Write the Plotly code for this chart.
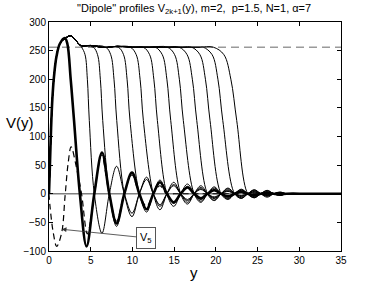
import plotly.graph_objects as go

# ---------------- data ----------------
# lobe centres (extrema of the decaying oscillations) and nodes (zeros)
LOBES = [4.5, 6.35, 8.1, 9.95, 11.7, 13.3, 14.95, 16.6, 18.2, 19.8, 21.45, 23.05, 24.6, 26.15, 27.7]
NODES = [3.7, 5.43, 7.23, 9.03, 10.83, 12.5, 14.13, 15.78, 17.4, 19.0, 20.63, 22.25, 23.83, 25.38, 26.93, 28.5]

# where each profile falls through V=128, and where its plateau starts bending
DROP_MID = [3.0, 4.83, 6.44, 8.12, 9.71, 11.31, 12.99, 14.59, 16.1, 17.71, 19.3, 20.83, 22.5]
DROP_START = [2.2, 3.9, 5.3, 6.8, 8.3, 9.75, 11.3, 12.75, 14.2, 15.6, 17.1, 18.5, 19.7]

# |extrema| of each profile, starting at its own lobe (first one negative)
OSC_AMPS = [
    [92, 72, 52, 37, 27, 20, 15, 11, 8, 6, 4.5, 3.5, 2.5, 1.5, 1],
    [69, 48, 34, 25, 19, 14, 10, 7.5, 5.5, 4, 3, 2, 1.5, 1],
    [57, 36, 27, 20, 15, 11, 8, 6, 4.5, 3.5, 2.5, 1.5, 1],
    [40, 29, 22, 16, 12, 9, 7, 5, 4, 3, 2, 1],
    [32, 24, 17, 13, 10, 7.5, 5.5, 4.5, 3.5, 2.5, 1.5],
    [28, 20, 15, 11, 8.5, 6.5, 5, 4, 3, 2],
    [22, 17, 13, 10, 7.5, 6, 5, 3.5, 2],
    [18, 14, 11, 8.5, 7, 5.5, 3.5, 2],
    [15, 12, 9, 7, 6, 3.5, 2],
    [12, 10, 8, 6.5, 4.5, 2.5],
    [10, 8, 7, 5.5, 3],
    [8, 7, 6, 3],
    [7, 6, 3],
]

# common rise / overshoot / plateau of the thin profiles
RISE_X = [0, 0.1, 0.25, 0.4, 0.6, 0.9, 1.3, 1.9, 2.6, 3.2, 3.8, 5.0, 6.6, 8.2, 10.0, 12.0, 14.0, 16.0, 18.0]
RISE_Y = [0, 45, 115, 165, 205, 240, 262, 271, 276, 268, 259, 259, 255.5, 257.5, 256, 256, 256, 256, 256]

# rise and fall of the thick profile (k=0)
THICK_X = [0, 0.1, 0.25, 0.4, 0.6, 0.9, 1.3, 1.9, 2.2, 2.6]
THICK_Y = [0, 45, 115, 165, 205, 240, 262, 272, 262, 200]

# dashed profile V5
V5_X = [0, 0.12, 0.52, 0.92, 1.52, 1.92, 2.3, 2.65, 3.3, 3.9, 4.6, 5.45, 6.3, 7.2, 8.1, 9.0, 9.95, 10.8, 11.7, 12.5, 13.3, 14.1, 15.0, 35]
V5_Y = [0, -22, -69, -92, -68, -5, 54, 82, 45, 0, -70, 0, 68, 0, -48, 0, 33, 0, -22, 0, 14, 0, 0, 0]

PLATEAU = 256
X_TICKS = [0, 5, 10, 15, 20, 25, 30, 35]
Y_TICKS = [-100, -50, 0, 50, 100, 150, 200, 250, 300]


def tail(k, xs, ys):
    amps = OSC_AMPS[k]
    sign = -1
    for j, a in enumerate(amps):
        xs.append(LOBES[k + j])
        ys.append(sign * a)
        sign = -sign
        if k + j + 1 < len(NODES):
            xs.append(NODES[k + j + 1])
            ys.append(0)
    xs += [31, 35]
    ys += [0, 0]
    return xs, ys


def profile(k):
    if k == 0:
        xs, ys = list(THICK_X), list(THICK_Y)
    else:
        s = DROP_START[k]
        m = DROP_MID[k]
        xs = [x for x in RISE_X if x < s - 0.35]
        ys = [y for x, y in zip(RISE_X, RISE_Y) if x < s - 0.35]
        xs += [s, s + 0.45 * (m - s), s + 0.75 * (m - s)]
        ys += [PLATEAU, 243, 200]
    xs += [DROP_MID[k], NODES[k]]
    ys += [128, 0]
    return tail(k, xs, ys)


fig = go.Figure()

# zero line and plateau level
fig.add_trace(go.Scatter(x=[0, 35], y=[0, 0], mode="lines",
                         line=dict(color="#7f7f7f", width=1.6), hoverinfo="skip"))
fig.add_trace(go.Scatter(x=[0, 35], y=[PLATEAU, PLATEAU], mode="lines",
                         line=dict(color="#9a9a9a", width=1.4, dash="8px,5px"), hoverinfo="skip"))

for k in range(len(DROP_MID) - 1, 0, -1):
    xs, ys = profile(k)
    fig.add_trace(go.Scatter(x=xs, y=ys, mode="lines",
                             line=dict(color="black", width=1.0, shape="spline", smoothing=1.0)))

xs, ys = profile(0)
fig.add_trace(go.Scatter(x=xs, y=ys, mode="lines",
                         line=dict(color="black", width=2.6, shape="spline", smoothing=1.0)))

fig.add_trace(go.Scatter(x=V5_X, y=V5_Y, mode="lines",
                         line=dict(color="black", width=1.2, dash="6px,4px", shape="spline", smoothing=1.0)))

axis_common = dict(showgrid=False, zeroline=False, showline=True, linecolor="black", linewidth=1,
                   mirror="ticks", ticks="inside", ticklen=4, tickcolor="black",
                   tickfont=dict(family="Liberation Sans, Arial", size=10, color="black"))

fig.update_layout(
    width=377, height=283,
    margin=dict(l=49, r=36, t=22, b=32),
    paper_bgcolor="white", plot_bgcolor="white",
    showlegend=False,
    hovermode=False,
    font=dict(family="Liberation Sans, Arial", color="black"),
    title=dict(text='"Dipole" profiles V<sub>2k+1</sub>(y), m=2,  p=1.5, N=1, α=7',
               x=0.515, xanchor="center", y=0.972, yanchor="middle",
               font=dict(size=11, family="Liberation Sans, Arial", color="black")),
    xaxis=dict(range=[0, 35], tickvals=X_TICKS, **axis_common),
    yaxis=dict(range=[-100, 300], tickvals=Y_TICKS, **axis_common),
    annotations=[
        dict(text="V(y)", xref="paper", yref="paper", x=-0.099, y=0.559, showarrow=False,
             xanchor="center", yanchor="middle",
             font=dict(size=15, family="Liberation Sans, Arial", color="black")),
        dict(text="y", xref="paper", yref="paper", x=0.497, y=-0.092, showarrow=False,
             xanchor="center", yanchor="middle",
             font=dict(size=15, family="Liberation Sans, Arial", color="black")),
        dict(text="V<sub>5</sub>", x=1.52, y=-62, xref="x", yref="y",
             ax=11.6, ay=-77, axref="x", ayref="y", showarrow=True,
             arrowhead=2, arrowsize=1.2, arrowwidth=0.8, arrowcolor="#333",
             bordercolor="#555", borderwidth=1, borderpad=3, bgcolor="white",
             font=dict(size=11, family="Liberation Sans, Arial", color="black")),
    ],
)

fig.write_html("out.html", config={"displayModeBar": False, "staticPlot": True},
               post_script="document.body.style.margin='0px';")
